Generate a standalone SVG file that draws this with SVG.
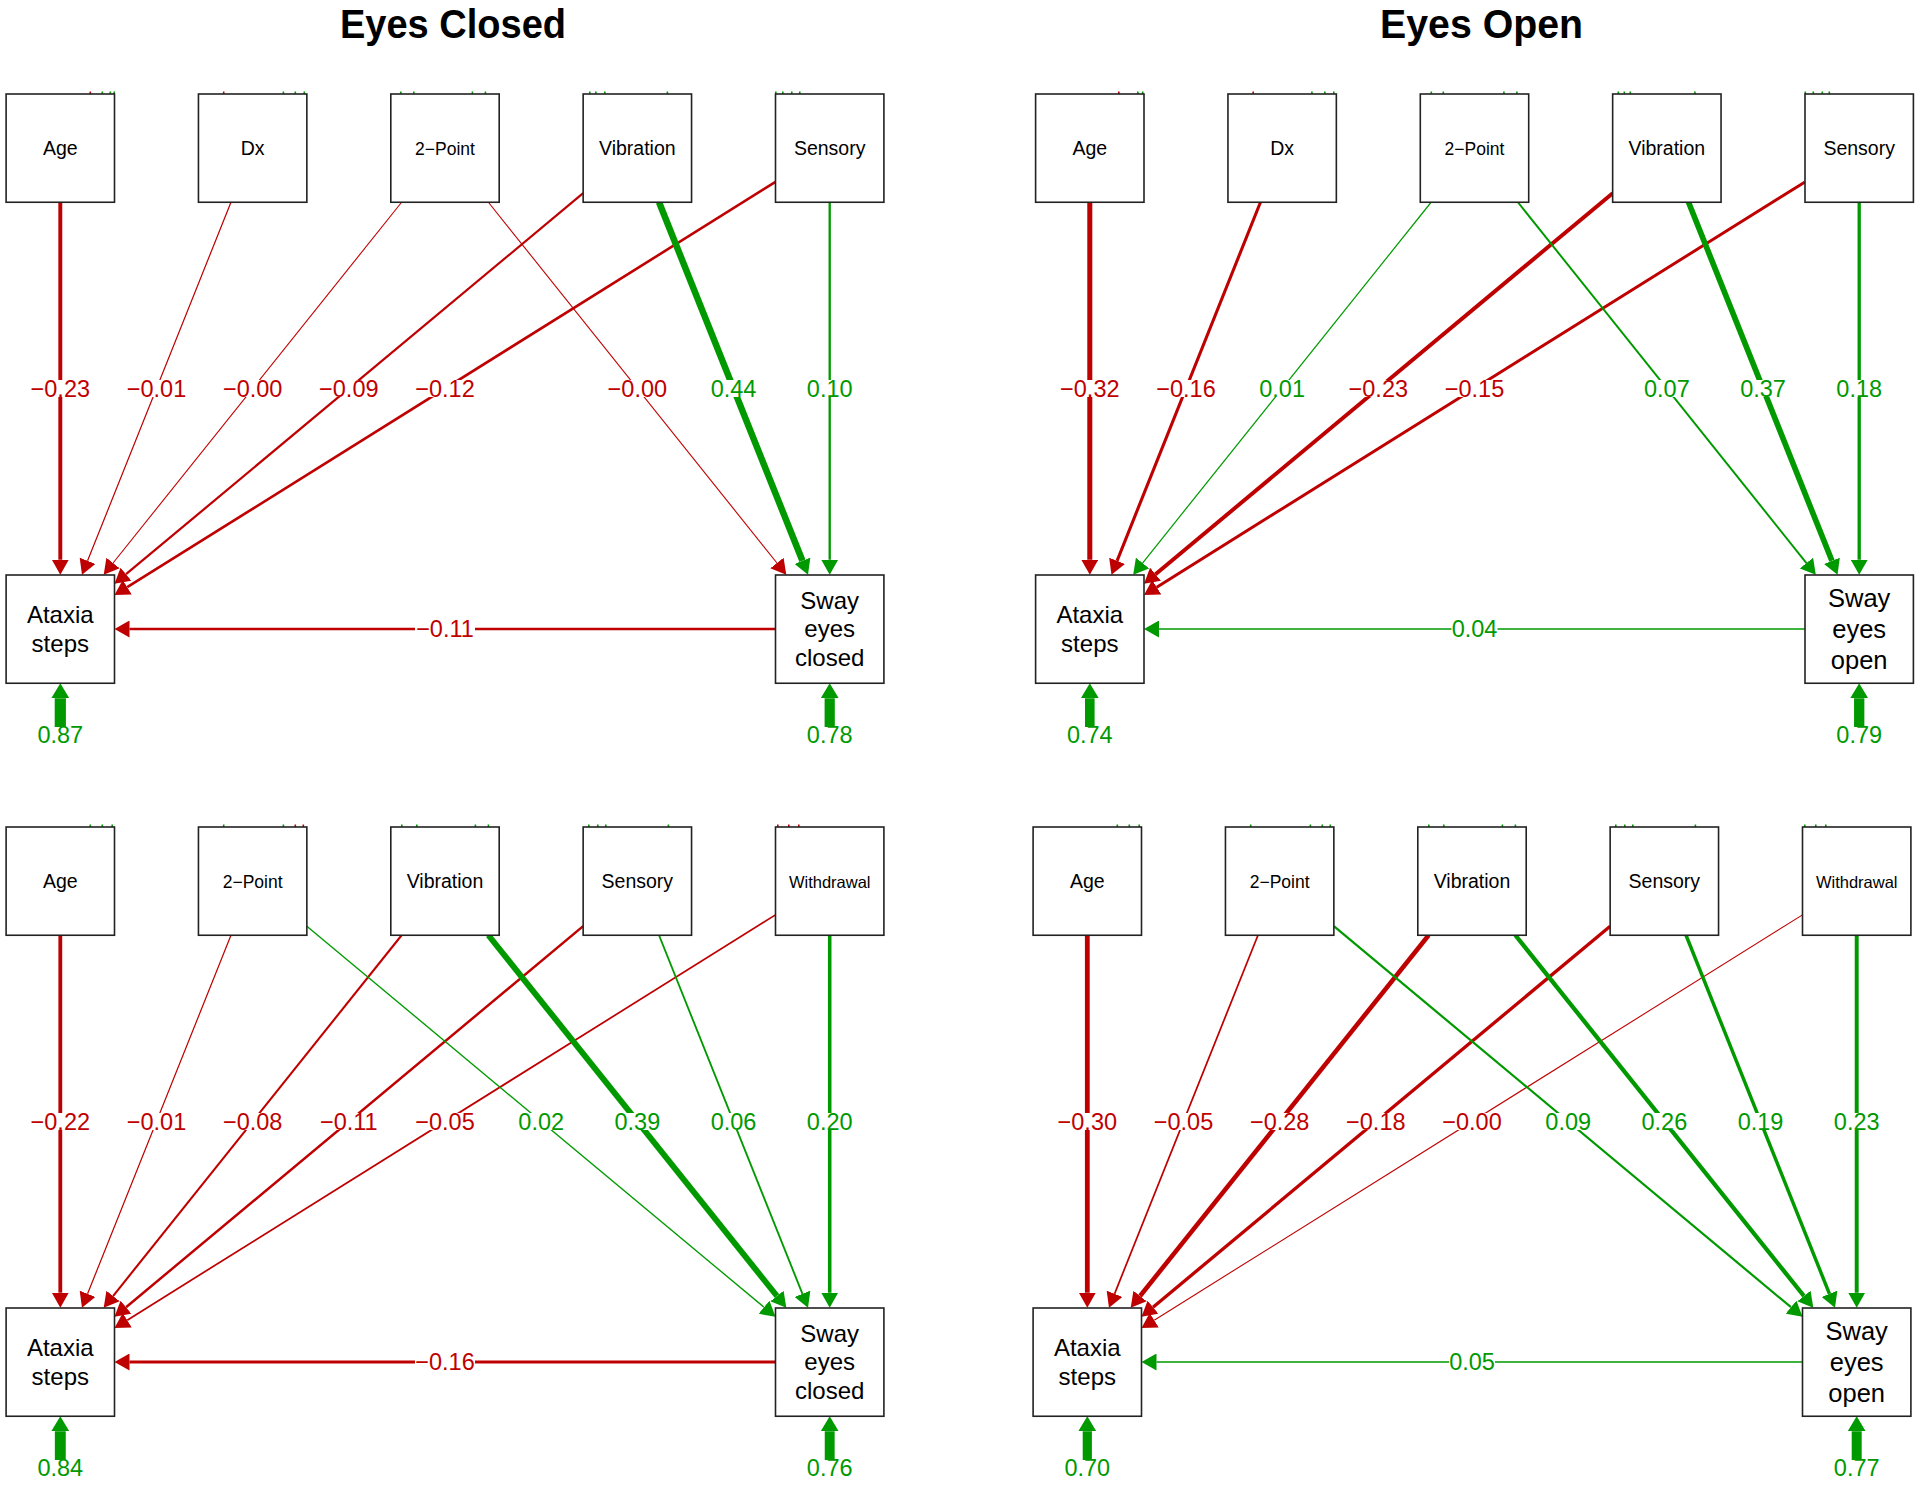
<svg xmlns="http://www.w3.org/2000/svg" width="1920" height="1485" viewBox="0 0 1920 1485">
<style>
.bg{fill:#fff}
.box{fill:#fff;stroke:#222;stroke-width:1.6}
.nl{font-family:"Liberation Sans",Arial,Helvetica,sans-serif;fill:#000;text-anchor:middle}
.n20{font-size:19.5px}
.n17{font-size:17.5px}
.n16{font-size:16.5px}
.n24{font-size:24px}
.n25{font-size:25.5px}
.title{font-family:"Liberation Sans",Arial,sans-serif;font-weight:bold;font-size:40px;text-anchor:middle;fill:#000}
.r{stroke:#BF0000;fill:none}
.g{stroke:#009900;fill:none}
.el{font-family:"Liberation Sans",Arial,Helvetica,sans-serif;font-size:23.5px;text-anchor:middle}
.tr{fill:#BF0000}
.tg{fill:#009900}
.lb{fill:#fff}
</style>
<defs>
<marker id="aR" viewBox="0 0 15 17" refX="0" refY="8.5" markerWidth="15" markerHeight="17" markerUnits="userSpaceOnUse" orient="auto"><path d="M0,0 L15,8.5 L0,17 Z" fill="#BF0000"/></marker>
<marker id="aG" viewBox="0 0 15 17" refX="0" refY="8.5" markerWidth="15" markerHeight="17" markerUnits="userSpaceOnUse" orient="auto"><path d="M0,0 L15,8.5 L0,17 Z" fill="#009900"/></marker>
<marker id="aRes" viewBox="0 0 15 18" refX="0" refY="9" markerWidth="15" markerHeight="18" markerUnits="userSpaceOnUse" orient="auto"><path d="M0,0 L15,9 L0,18 Z" fill="#009900"/></marker>
</defs>
<rect class="bg" x="0" y="0" width="1920" height="1485"/>
<text class="title" x="453" y="38" textLength="226" lengthAdjust="spacingAndGlyphs">Eyes Closed</text>
<text class="title" x="1481.5" y="38" textLength="203" lengthAdjust="spacingAndGlyphs">Eyes Open</text>

<!-- ===================== TOP LEFT: Eyes Closed ===================== -->
<g id="panel-tl">
<g id="tl-connectors">
<line class="r" stroke-width="3.93" x1="60.3" y1="202.25" x2="60.3" y2="559.75" marker-end="url(#aR)"/>
<line class="r" stroke-width="1.22" x1="230.96" y1="202.25" x2="87.56" y2="560.82" marker-end="url(#aR)"/>
<line class="r" stroke-width="1.1" x1="401.61" y1="202.25" x2="113.06" y2="563.03" marker-end="url(#aR)"/>
<line class="r" stroke-width="2.21" x1="583.15" y1="193.18" x2="126.02" y2="574.22" marker-end="url(#aR)"/>
<line class="r" stroke-width="2.58" x1="775.5" y1="181.88" x2="127.22" y2="587.17" marker-end="url(#aR)"/>
<line class="r" stroke-width="1.1" x1="488.39" y1="202.25" x2="776.94" y2="563.03" marker-end="url(#aR)"/>
<line class="g" stroke-width="6.51" x1="659.04" y1="202.25" x2="802.44" y2="560.82" marker-end="url(#aG)"/>
<line class="g" stroke-width="2.33" x1="829.7" y1="202.25" x2="829.7" y2="559.75" marker-end="url(#aG)"/>
<line class="r" stroke-width="2.45" x1="775.5" y1="629" x2="129.5" y2="629" marker-end="url(#aR)"/>
<line class="g" stroke-width="11.2" x1="60.3" y1="727" x2="60.3" y2="698.25" marker-end="url(#aRes)"/>
<line class="g" stroke-width="10.2" x1="829.7" y1="727" x2="829.7" y2="698.25" marker-end="url(#aRes)"/>
<g id="tl-labels">
<rect class="lb" x="30.3" y="380" width="60" height="17"/><text class="el tr" x="60.3" y="396.7">−0.23</text>
<rect class="lb" x="126.5" y="380" width="60" height="17"/><text class="el tr" x="156.5" y="396.7">−0.01</text>
<rect class="lb" x="222.65" y="380" width="60" height="17"/><text class="el tr" x="252.65" y="396.7">−0.00</text>
<rect class="lb" x="318.8" y="380" width="60" height="17"/><text class="el tr" x="348.8" y="396.7">−0.09</text>
<rect class="lb" x="415" y="380" width="60" height="17"/><text class="el tr" x="445" y="396.7">−0.12</text>
<rect class="lb" x="607.35" y="380" width="60" height="17"/><text class="el tr" x="637.35" y="396.7">−0.00</text>
<rect class="lb" x="710.5" y="380" width="46" height="17"/><text class="el tg" x="733.5" y="396.7">0.44</text>
<rect class="lb" x="806.7" y="380" width="46" height="17"/><text class="el tg" x="829.7" y="396.7">0.10</text>
<rect class="lb" x="415" y="620.5" width="60" height="17"/><text class="el tr" x="445" y="637.2">−0.11</text>
<text class="el tg" x="60.3" y="743">0.87</text>
<text class="el tg" x="829.7" y="743">0.78</text>
</g>
</g>
<g id="tl-ticks">
<rect class="tr" x="89.5" y="91.5" width="1.6" height="2.5"/><rect class="tg" x="101.5" y="91.5" width="1.6" height="2.5"/><rect class="tg" x="109.5" y="91.5" width="1.6" height="2.5"/><rect class="tg" x="113.4" y="91.5" width="1.6" height="2.5"/>
<rect class="tr" x="222.9" y="91.5" width="1.6" height="2.5"/><rect class="tg" x="282.6" y="91.5" width="1.6" height="2.5"/><rect class="tg" x="294.5" y="91.5" width="1.6" height="2.5"/><rect class="tg" x="303.5" y="91.5" width="1.6" height="2.5"/>
<rect class="tg" x="400" y="91.5" width="1.6" height="2.5"/><rect class="tg" x="413" y="91.5" width="1.6" height="2.5"/><rect class="tg" x="471.6" y="91.5" width="1.6" height="2.5"/><rect class="tg" x="484.6" y="91.5" width="1.6" height="2.5"/>
<rect class="tg" x="589" y="91.5" width="1.6" height="2.5"/><rect class="tg" x="595" y="91.5" width="1.6" height="2.5"/><rect class="tg" x="604" y="91.5" width="1.6" height="2.5"/><rect class="tg" x="666.6" y="91.5" width="1.6" height="2.5"/>
<rect class="tg" x="775" y="91.5" width="1.6" height="2.5"/><rect class="tg" x="782" y="91.5" width="1.6" height="2.5"/><rect class="tg" x="791" y="91.5" width="1.6" height="2.5"/><rect class="tg" x="799" y="91.5" width="1.6" height="2.5"/>
</g>
<g id="tl-age"><rect class="box" x="6.1" y="94" width="108.4" height="108.25"/><text class="nl n20" x="60.3" y="155">Age</text></g>
<g id="tl-dx"><rect class="box" x="198.45" y="94" width="108.4" height="108.25"/><text class="nl n20" x="252.65" y="155">Dx</text></g>
<g id="tl-2point"><rect class="box" x="390.8" y="94" width="108.4" height="108.25"/><text class="nl n17" x="445" y="155">2−Point</text></g>
<g id="tl-vibration"><rect class="box" x="583.15" y="94" width="108.4" height="108.25"/><text class="nl n20" x="637.35" y="155">Vibration</text></g>
<g id="tl-sensory"><rect class="box" x="775.5" y="94" width="108.4" height="108.25"/><text class="nl n20" x="829.7" y="155">Sensory</text></g>
<g id="tl-ataxia"><rect class="box" x="6.1" y="575" width="108.4" height="108.25"/><text class="nl n24" x="60.3" y="622.7">Ataxia</text><text class="nl n24" x="60.3" y="652.3">steps</text></g>
<g id="tl-sway"><rect class="box" x="775.5" y="575" width="108.4" height="108.25"/><text class="nl n24" x="829.7" y="608.6">Sway</text><text class="nl n24" x="829.7" y="637.2">eyes</text><text class="nl n24" x="829.7" y="665.8">closed</text></g>
</g>

<!-- ===================== TOP RIGHT: Eyes Open ===================== -->
<g id="panel-tr" transform="translate(1029.5,0)">
<g id="tr-connectors">
<line class="r" stroke-width="5.04" x1="60.3" y1="202.25" x2="60.3" y2="559.75" marker-end="url(#aR)"/>
<line class="r" stroke-width="3.07" x1="230.96" y1="202.25" x2="87.56" y2="560.82" marker-end="url(#aR)"/>
<line class="g" stroke-width="1.22" x1="401.61" y1="202.25" x2="113.06" y2="563.03" marker-end="url(#aG)"/>
<line class="r" stroke-width="3.93" x1="583.15" y1="193.18" x2="126.02" y2="574.22" marker-end="url(#aR)"/>
<line class="r" stroke-width="2.95" x1="775.5" y1="181.88" x2="127.22" y2="587.17" marker-end="url(#aR)"/>
<line class="g" stroke-width="1.96" x1="488.39" y1="202.25" x2="776.94" y2="563.03" marker-end="url(#aG)"/>
<line class="g" stroke-width="5.65" x1="659.04" y1="202.25" x2="802.44" y2="560.82" marker-end="url(#aG)"/>
<line class="g" stroke-width="3.31" x1="829.7" y1="202.25" x2="829.7" y2="559.75" marker-end="url(#aG)"/>
<line class="g" stroke-width="1.59" x1="775.5" y1="629" x2="129.5" y2="629" marker-end="url(#aG)"/>
<line class="g" stroke-width="9.6" x1="60.3" y1="727" x2="60.3" y2="698.25" marker-end="url(#aRes)"/>
<line class="g" stroke-width="10.3" x1="829.7" y1="727" x2="829.7" y2="698.25" marker-end="url(#aRes)"/>
<g id="tr-labels">
<rect class="lb" x="30.3" y="380" width="60" height="17"/><text class="el tr" x="60.3" y="396.7">−0.32</text>
<rect class="lb" x="126.5" y="380" width="60" height="17"/><text class="el tr" x="156.5" y="396.7">−0.16</text>
<rect class="lb" x="229.65" y="380" width="46" height="17"/><text class="el tg" x="252.65" y="396.7">0.01</text>
<rect class="lb" x="318.8" y="380" width="60" height="17"/><text class="el tr" x="348.8" y="396.7">−0.23</text>
<rect class="lb" x="415" y="380" width="60" height="17"/><text class="el tr" x="445" y="396.7">−0.15</text>
<rect class="lb" x="614.35" y="380" width="46" height="17"/><text class="el tg" x="637.35" y="396.7">0.07</text>
<rect class="lb" x="710.5" y="380" width="46" height="17"/><text class="el tg" x="733.5" y="396.7">0.37</text>
<rect class="lb" x="806.7" y="380" width="46" height="17"/><text class="el tg" x="829.7" y="396.7">0.18</text>
<rect class="lb" x="422" y="620.5" width="46" height="17"/><text class="el tg" x="445" y="637.2">0.04</text>
<text class="el tg" x="60.3" y="743">0.74</text>
<text class="el tg" x="829.7" y="743">0.79</text>
</g>
</g>
<g id="tr-ticks">
<rect class="tr" x="88.5" y="91.5" width="1.6" height="2.5"/><rect class="tg" x="107.5" y="91.5" width="1.6" height="2.5"/><rect class="tg" x="112.4" y="91.5" width="1.6" height="2.5"/>
<rect class="tr" x="222.9" y="91.5" width="1.6" height="2.5"/><rect class="tg" x="281.6" y="91.5" width="1.6" height="2.5"/><rect class="tg" x="294.5" y="91.5" width="1.6" height="2.5"/><rect class="tg" x="303.5" y="91.5" width="1.6" height="2.5"/>
<rect class="tg" x="401" y="91.5" width="1.6" height="2.5"/><rect class="tg" x="413" y="91.5" width="1.6" height="2.5"/><rect class="tg" x="473.6" y="91.5" width="1.6" height="2.5"/><rect class="tg" x="486.6" y="91.5" width="1.6" height="2.5"/>
<rect class="tg" x="588" y="91.5" width="1.6" height="2.5"/><rect class="tg" x="594" y="91.5" width="1.6" height="2.5"/><rect class="tg" x="600" y="91.5" width="1.6" height="2.5"/><rect class="tg" x="664.6" y="91.5" width="1.6" height="2.5"/>
<rect class="tg" x="775" y="91.5" width="1.6" height="2.5"/><rect class="tg" x="783" y="91.5" width="1.6" height="2.5"/><rect class="tg" x="792" y="91.5" width="1.6" height="2.5"/><rect class="tg" x="799" y="91.5" width="1.6" height="2.5"/>
</g>
<g id="tr-age"><rect class="box" x="6.1" y="94" width="108.4" height="108.25"/><text class="nl n20" x="60.3" y="155">Age</text></g>
<g id="tr-dx"><rect class="box" x="198.45" y="94" width="108.4" height="108.25"/><text class="nl n20" x="252.65" y="155">Dx</text></g>
<g id="tr-2point"><rect class="box" x="390.8" y="94" width="108.4" height="108.25"/><text class="nl n17" x="445" y="155">2−Point</text></g>
<g id="tr-vibration"><rect class="box" x="583.15" y="94" width="108.4" height="108.25"/><text class="nl n20" x="637.35" y="155">Vibration</text></g>
<g id="tr-sensory"><rect class="box" x="775.5" y="94" width="108.4" height="108.25"/><text class="nl n20" x="829.7" y="155">Sensory</text></g>
<g id="tr-ataxia"><rect class="box" x="6.1" y="575" width="108.4" height="108.25"/><text class="nl n24" x="60.3" y="622.7">Ataxia</text><text class="nl n24" x="60.3" y="652.3">steps</text></g>
<g id="tr-sway"><rect class="box" x="775.5" y="575" width="108.4" height="108.25"/><text class="nl n25" x="829.7" y="607">Sway</text><text class="nl n25" x="829.7" y="637.5">eyes</text><text class="nl n25" x="829.7" y="668.5">open</text></g>
</g>

<!-- ===================== BOTTOM LEFT: Eyes Closed ===================== -->
<g id="panel-bl" transform="translate(0,733)">
<g id="bl-connectors">
<line class="r" stroke-width="3.81" x1="60.3" y1="202.25" x2="60.3" y2="559.75" marker-end="url(#aR)"/>
<line class="r" stroke-width="1.22" x1="230.96" y1="202.25" x2="87.56" y2="560.82" marker-end="url(#aR)"/>
<line class="r" stroke-width="2.08" x1="401.61" y1="202.25" x2="113.06" y2="563.03" marker-end="url(#aR)"/>
<line class="r" stroke-width="2.45" x1="583.15" y1="193.18" x2="126.02" y2="574.22" marker-end="url(#aR)"/>
<line class="r" stroke-width="1.72" x1="775.5" y1="181.88" x2="127.22" y2="587.17" marker-end="url(#aR)"/>
<line class="g" stroke-width="1.35" x1="306.85" y1="193.18" x2="763.98" y2="574.22" marker-end="url(#aG)"/>
<line class="g" stroke-width="5.9" x1="488.39" y1="202.25" x2="776.94" y2="563.03" marker-end="url(#aG)"/>
<line class="g" stroke-width="1.84" x1="659.04" y1="202.25" x2="802.44" y2="560.82" marker-end="url(#aG)"/>
<line class="g" stroke-width="3.56" x1="829.7" y1="202.25" x2="829.7" y2="559.75" marker-end="url(#aG)"/>
<line class="r" stroke-width="3.07" x1="775.5" y1="629" x2="129.5" y2="629" marker-end="url(#aR)"/>
<line class="g" stroke-width="10.9" x1="60.3" y1="727" x2="60.3" y2="698.25" marker-end="url(#aRes)"/>
<line class="g" stroke-width="9.9" x1="829.7" y1="727" x2="829.7" y2="698.25" marker-end="url(#aRes)"/>
<g id="bl-labels">
<rect class="lb" x="30.3" y="380" width="60" height="17"/><text class="el tr" x="60.3" y="396.7">−0.22</text>
<rect class="lb" x="126.5" y="380" width="60" height="17"/><text class="el tr" x="156.5" y="396.7">−0.01</text>
<rect class="lb" x="222.65" y="380" width="60" height="17"/><text class="el tr" x="252.65" y="396.7">−0.08</text>
<rect class="lb" x="318.8" y="380" width="60" height="17"/><text class="el tr" x="348.8" y="396.7">−0.11</text>
<rect class="lb" x="415" y="380" width="60" height="17"/><text class="el tr" x="445" y="396.7">−0.05</text>
<rect class="lb" x="518.2" y="380" width="46" height="17"/><text class="el tg" x="541.2" y="396.7">0.02</text>
<rect class="lb" x="614.35" y="380" width="46" height="17"/><text class="el tg" x="637.35" y="396.7">0.39</text>
<rect class="lb" x="710.5" y="380" width="46" height="17"/><text class="el tg" x="733.5" y="396.7">0.06</text>
<rect class="lb" x="806.7" y="380" width="46" height="17"/><text class="el tg" x="829.7" y="396.7">0.20</text>
<rect class="lb" x="415" y="620.5" width="60" height="17"/><text class="el tr" x="445" y="637.2">−0.16</text>
<text class="el tg" x="60.3" y="743">0.84</text>
<text class="el tg" x="829.7" y="743">0.76</text>
</g>
</g>
<g id="bl-ticks">
<rect class="tg" x="89.5" y="91.5" width="1.6" height="2.5"/><rect class="tg" x="101.5" y="91.5" width="1.6" height="2.5"/><rect class="tg" x="111.4" y="91.5" width="1.6" height="2.5"/>
<rect class="tg" x="222.9" y="91.5" width="1.6" height="2.5"/><rect class="tg" x="282.6" y="91.5" width="1.6" height="2.5"/><rect class="tr" x="294.5" y="91.5" width="1.6" height="2.5"/><rect class="tr" x="302.5" y="91.5" width="1.6" height="2.5"/>
<rect class="tg" x="401" y="91.5" width="1.6" height="2.5"/><rect class="tg" x="416" y="91.5" width="1.6" height="2.5"/><rect class="tg" x="474.6" y="91.5" width="1.6" height="2.5"/><rect class="tg" x="487.6" y="91.5" width="1.6" height="2.5"/>
<rect class="tg" x="588" y="91.5" width="1.6" height="2.5"/><rect class="tg" x="597" y="91.5" width="1.6" height="2.5"/><rect class="tg" x="605" y="91.5" width="1.6" height="2.5"/><rect class="tg" x="667.6" y="91.5" width="1.6" height="2.5"/>
<rect class="tr" x="777" y="91.5" width="1.6" height="2.5"/><rect class="tr" x="788" y="91.5" width="1.6" height="2.5"/><rect class="tr" x="798" y="91.5" width="1.6" height="2.5"/>
</g>
<g id="bl-age"><rect class="box" x="6.1" y="94" width="108.4" height="108.25"/><text class="nl n20" x="60.3" y="155">Age</text></g>
<g id="bl-2point"><rect class="box" x="198.45" y="94" width="108.4" height="108.25"/><text class="nl n17" x="252.65" y="155">2−Point</text></g>
<g id="bl-vibration"><rect class="box" x="390.8" y="94" width="108.4" height="108.25"/><text class="nl n20" x="445" y="155">Vibration</text></g>
<g id="bl-sensory"><rect class="box" x="583.15" y="94" width="108.4" height="108.25"/><text class="nl n20" x="637.35" y="155">Sensory</text></g>
<g id="bl-withdrawal"><rect class="box" x="775.5" y="94" width="108.4" height="108.25"/><text class="nl n16" x="829.7" y="154.5">Withdrawal</text></g>
<g id="bl-ataxia"><rect class="box" x="6.1" y="575" width="108.4" height="108.25"/><text class="nl n24" x="60.3" y="622.7">Ataxia</text><text class="nl n24" x="60.3" y="652.3">steps</text></g>
<g id="bl-sway"><rect class="box" x="775.5" y="575" width="108.4" height="108.25"/><text class="nl n24" x="829.7" y="608.6">Sway</text><text class="nl n24" x="829.7" y="637.2">eyes</text><text class="nl n24" x="829.7" y="665.8">closed</text></g>
</g>

<!-- ===================== BOTTOM RIGHT: Eyes Open ===================== -->
<g id="panel-br" transform="translate(1027,733)">
<g id="br-connectors">
<line class="r" stroke-width="4.79" x1="60.3" y1="202.25" x2="60.3" y2="559.75" marker-end="url(#aR)"/>
<line class="r" stroke-width="1.72" x1="230.96" y1="202.25" x2="87.56" y2="560.82" marker-end="url(#aR)"/>
<line class="r" stroke-width="4.54" x1="401.61" y1="202.25" x2="113.06" y2="563.03" marker-end="url(#aR)"/>
<line class="r" stroke-width="3.31" x1="583.15" y1="193.18" x2="126.02" y2="574.22" marker-end="url(#aR)"/>
<line class="r" stroke-width="1.1" x1="775.5" y1="181.88" x2="127.22" y2="587.17" marker-end="url(#aR)"/>
<line class="g" stroke-width="2.21" x1="306.85" y1="193.18" x2="763.98" y2="574.22" marker-end="url(#aG)"/>
<line class="g" stroke-width="4.3" x1="488.39" y1="202.25" x2="776.94" y2="563.03" marker-end="url(#aG)"/>
<line class="g" stroke-width="3.44" x1="659.04" y1="202.25" x2="802.44" y2="560.82" marker-end="url(#aG)"/>
<line class="g" stroke-width="3.93" x1="829.7" y1="202.25" x2="829.7" y2="559.75" marker-end="url(#aG)"/>
<line class="g" stroke-width="1.72" x1="775.5" y1="629" x2="129.5" y2="629" marker-end="url(#aG)"/>
<line class="g" stroke-width="9.2" x1="60.3" y1="727" x2="60.3" y2="698.25" marker-end="url(#aRes)"/>
<line class="g" stroke-width="10" x1="829.7" y1="727" x2="829.7" y2="698.25" marker-end="url(#aRes)"/>
<g id="br-labels">
<rect class="lb" x="30.3" y="380" width="60" height="17"/><text class="el tr" x="60.3" y="396.7">−0.30</text>
<rect class="lb" x="126.5" y="380" width="60" height="17"/><text class="el tr" x="156.5" y="396.7">−0.05</text>
<rect class="lb" x="222.65" y="380" width="60" height="17"/><text class="el tr" x="252.65" y="396.7">−0.28</text>
<rect class="lb" x="318.8" y="380" width="60" height="17"/><text class="el tr" x="348.8" y="396.7">−0.18</text>
<rect class="lb" x="415" y="380" width="60" height="17"/><text class="el tr" x="445" y="396.7">−0.00</text>
<rect class="lb" x="518.2" y="380" width="46" height="17"/><text class="el tg" x="541.2" y="396.7">0.09</text>
<rect class="lb" x="614.35" y="380" width="46" height="17"/><text class="el tg" x="637.35" y="396.7">0.26</text>
<rect class="lb" x="710.5" y="380" width="46" height="17"/><text class="el tg" x="733.5" y="396.7">0.19</text>
<rect class="lb" x="806.7" y="380" width="46" height="17"/><text class="el tg" x="829.7" y="396.7">0.23</text>
<rect class="lb" x="422" y="620.5" width="46" height="17"/><text class="el tg" x="445" y="637.2">0.05</text>
<text class="el tg" x="60.3" y="743">0.70</text>
<text class="el tg" x="829.7" y="743">0.77</text>
</g>
</g>
<g id="br-ticks">
<rect class="tg" x="89.5" y="91.5" width="1.6" height="2.5"/><rect class="tg" x="101.5" y="91.5" width="1.6" height="2.5"/><rect class="tg" x="111.4" y="91.5" width="1.6" height="2.5"/>
<rect class="tg" x="222.9" y="91.5" width="1.6" height="2.5"/><rect class="tg" x="282.6" y="91.5" width="1.6" height="2.5"/><rect class="tg" x="294.5" y="91.5" width="1.6" height="2.5"/><rect class="tg" x="302.5" y="91.5" width="1.6" height="2.5"/>
<rect class="tg" x="401" y="91.5" width="1.6" height="2.5"/><rect class="tg" x="416" y="91.5" width="1.6" height="2.5"/><rect class="tg" x="474.6" y="91.5" width="1.6" height="2.5"/><rect class="tg" x="487.6" y="91.5" width="1.6" height="2.5"/>
<rect class="tg" x="588" y="91.5" width="1.6" height="2.5"/><rect class="tg" x="597" y="91.5" width="1.6" height="2.5"/><rect class="tg" x="605" y="91.5" width="1.6" height="2.5"/><rect class="tg" x="667.6" y="91.5" width="1.6" height="2.5"/>
<rect class="tg" x="777" y="91.5" width="1.6" height="2.5"/><rect class="tg" x="788" y="91.5" width="1.6" height="2.5"/><rect class="tg" x="798" y="91.5" width="1.6" height="2.5"/>
</g>
<g id="br-age"><rect class="box" x="6.1" y="94" width="108.4" height="108.25"/><text class="nl n20" x="60.3" y="155">Age</text></g>
<g id="br-2point"><rect class="box" x="198.45" y="94" width="108.4" height="108.25"/><text class="nl n17" x="252.65" y="155">2−Point</text></g>
<g id="br-vibration"><rect class="box" x="390.8" y="94" width="108.4" height="108.25"/><text class="nl n20" x="445" y="155">Vibration</text></g>
<g id="br-sensory"><rect class="box" x="583.15" y="94" width="108.4" height="108.25"/><text class="nl n20" x="637.35" y="155">Sensory</text></g>
<g id="br-withdrawal"><rect class="box" x="775.5" y="94" width="108.4" height="108.25"/><text class="nl n16" x="829.7" y="154.5">Withdrawal</text></g>
<g id="br-ataxia"><rect class="box" x="6.1" y="575" width="108.4" height="108.25"/><text class="nl n24" x="60.3" y="622.7">Ataxia</text><text class="nl n24" x="60.3" y="652.3">steps</text></g>
<g id="br-sway"><rect class="box" x="775.5" y="575" width="108.4" height="108.25"/><text class="nl n25" x="829.7" y="607">Sway</text><text class="nl n25" x="829.7" y="637.5">eyes</text><text class="nl n25" x="829.7" y="668.5">open</text></g>
</g>
</svg>
